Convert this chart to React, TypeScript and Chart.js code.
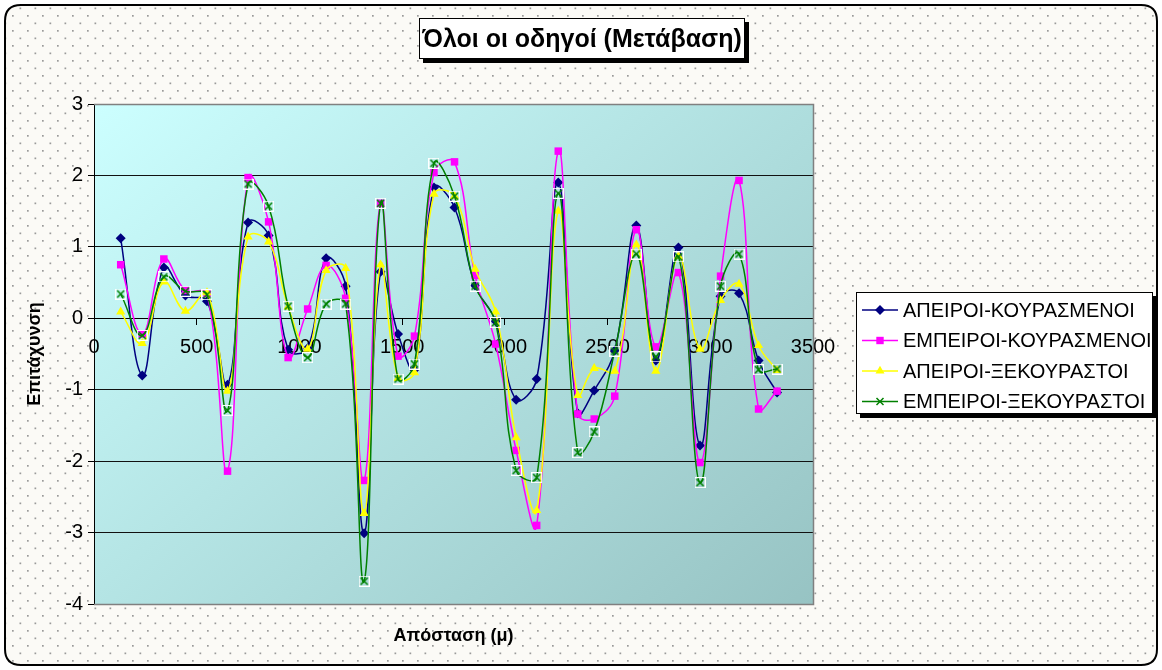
import React, { useEffect, useRef } from 'react';
import { Chart, registerables } from 'chart.js';

Chart.register(...registerables);

const chartTitle = 'Όλοι οι οδηγοί (Μετάβαση)';
const xTitle = 'Απόσταση (μ)';
const yTitle = 'Επιτάχυνση';

const distances = [130, 235, 340, 445, 550, 650, 750, 850, 945, 1040, 1130, 1225, 1315, 1395, 1480, 1560, 1655, 1755, 1855, 1955, 2055, 2155, 2260, 2355, 2435, 2535, 2640, 2735, 2845, 2950, 3050, 3140, 3235, 3325];

const seriesNames = ['ΑΠΕΙΡΟΙ-ΚΟΥΡΑΣΜΕΝΟΙ', 'ΕΜΠΕΙΡΟΙ-ΚΟΥΡΑΣΜΕΝΟΙ', 'ΑΠΕΙΡΟΙ-ΞΕΚΟΥΡΑΣΤΟΙ', 'ΕΜΠΕΙΡΟΙ-ΞΕΚΟΥΡΑΣΤΟΙ'];

const apeiroiKourasmenoi = [1.12, -0.80, 0.71, 0.32, 0.24, -0.93, 1.34, 1.16, -0.44, -0.42, 0.84, 0.45, -3.01, 0.65, -0.22, -0.72, 1.83, 1.55, 0.46, -0.04, -1.14, -0.85, 1.90, -1.33, -1.01, -0.45, 1.30, -0.59, 0.99, -1.78, 0.31, 0.35, -0.59, -1.04];
const empeiroiKourasmenoi = [0.75, -0.22, 0.83, 0.39, 0.35, -2.14, 1.97, 1.35, -0.55, 0.13, 0.74, 0.28, -2.27, 1.61, -0.53, -0.25, 2.04, 2.19, 0.60, -0.36, -1.85, -2.90, 2.34, -1.34, -1.41, -1.09, 1.24, -0.40, 0.64, -2.02, 0.59, 1.93, -1.27, -1.02];
const apeiroiXekourastoi = [0.09, -0.35, 0.51, 0.10, 0.36, -1.02, 1.14, 1.07, 0.16, -0.43, 0.67, 0.70, -2.73, 0.75, -0.84, -0.76, 1.74, 1.71, 0.69, 0.09, -1.67, -2.69, 1.50, -1.08, -0.70, -0.74, 1.03, -0.74, 0.87, -0.43, 0.25, 0.48, -0.38, -0.73];
const empeiroiXekourastoi = [0.34, -0.24, 0.58, 0.38, 0.33, -1.29, 1.88, 1.57, 0.17, -0.55, 0.20, 0.20, -3.68, 1.61, -0.85, -0.64, 2.17, 1.71, 0.45, -0.06, -2.13, -2.23, 1.75, -1.88, -1.59, -0.46, 0.90, -0.54, 0.86, -2.30, 0.45, 0.90, -0.72, -0.71];

const yTicksMin = -4;
const yTicksMax = 3;
const xTicksMin = 0;
const xTicksMax = 3500;

const colors = ['#000080', '#ff00ff', '#ffff00', '#008000'];
const FONT = '"Liberation Sans", Arial, sans-serif';

function makeGreenMarker(withBox: boolean) {
  const c = document.createElement('canvas');
  c.width = 11;
  c.height = 11;
  const g = c.getContext('2d')!;
  if (withBox) {
    g.strokeStyle = '#ffffff';
    g.lineWidth = 1;
    g.strokeRect(0.5, 0.5, 10, 10);
  }
  g.strokeStyle = '#008000';
  g.lineWidth = 1.5;
  g.beginPath();
  g.moveTo(2, 2);
  g.lineTo(9, 9);
  g.moveTo(9, 2);
  g.lineTo(2, 9);
  g.stroke();
  return c;
}

function makePattern(ctx: CanvasRenderingContext2D) {
  const t = document.createElement('canvas');
  t.width = 15;
  t.height = 15;
  const g = t.getContext('2d')!;
  g.fillStyle = '#fbfaf6';
  g.fillRect(0, 0, 15, 15);
  g.fillStyle = '#9a9a9a';
  g.fillRect(12, 0, 1.7, 1.7);
  g.fillRect(4.5, 7.5, 1.7, 1.7);
  return ctx.createPattern(t, 'repeat');
}

function roundRect(ctx: CanvasRenderingContext2D, x: number, y: number, w: number, h: number, r: number) {
  ctx.beginPath();
  ctx.moveTo(x + r, y);
  ctx.lineTo(x + w - r, y);
  ctx.quadraticCurveTo(x + w, y, x + w, y + r);
  ctx.lineTo(x + w, y + h - r);
  ctx.quadraticCurveTo(x + w, y + h, x + w - r, y + h);
  ctx.lineTo(x + r, y + h);
  ctx.quadraticCurveTo(x, y + h, x, y + h - r);
  ctx.lineTo(x, y + r);
  ctx.quadraticCurveTo(x, y, x + r, y);
  ctx.closePath();
}

function drawLegendMarker(ctx: CanvasRenderingContext2D, i: number, x: number, y: number) {
  ctx.save();
  ctx.fillStyle = colors[i];
  ctx.strokeStyle = colors[i];
  ctx.beginPath();
  if (i === 0) {
    const r = 5;
    ctx.moveTo(x - r, y);
    ctx.lineTo(x, y - r);
    ctx.lineTo(x + r, y);
    ctx.lineTo(x, y + r);
    ctx.closePath();
    ctx.fill();
  } else if (i === 1) {
    ctx.rect(x - 3.7, y - 3.7, 7.4, 7.4);
    ctx.fill();
  } else if (i === 2) {
    const r = 5.2;
    ctx.moveTo(x, y - r);
    ctx.lineTo(x + r * 0.866, y + r / 2);
    ctx.lineTo(x - r * 0.866, y + r / 2);
    ctx.closePath();
    ctx.fill();
  } else {
    ctx.lineWidth = 1.5;
    ctx.moveTo(x - 3.5, y - 3.5);
    ctx.lineTo(x + 3.5, y + 3.5);
    ctx.moveTo(x + 3.5, y - 3.5);
    ctx.lineTo(x - 3.5, y + 3.5);
    ctx.stroke();
  }
  ctx.restore();
}

const decorPlugin = {
  id: 'decor',
  beforeDraw(chart: any) {
    const ctx: CanvasRenderingContext2D = chart.ctx;
    const { width, height } = chart;
    ctx.save();
    ctx.fillStyle = '#ffffff';
    ctx.fillRect(0, 0, width, height);
    roundRect(ctx, 5, 5, width - 10, height - 10, 16);
    const pat = makePattern(ctx);
    if (pat) ctx.fillStyle = pat;
    ctx.fill();
    ctx.lineWidth = 2;
    ctx.strokeStyle = '#000';
    ctx.stroke();
    const a = chart.chartArea;
    const grad = ctx.createLinearGradient(a.left, a.top, a.right - 150, a.bottom + 150);
    grad.addColorStop(0, '#ccffff');
    grad.addColorStop(1, '#96c2c2');
    ctx.fillStyle = grad;
    ctx.fillRect(a.left, a.top, a.right - a.left, a.bottom - a.top);
    ctx.restore();
  },
  beforeDatasetsDraw(chart: any) {
    const ctx: CanvasRenderingContext2D = chart.ctx;
    const a = chart.chartArea;
    ctx.save();
    ctx.strokeStyle = '#808080';
    ctx.lineWidth = 1.5;
    ctx.beginPath();
    ctx.moveTo(a.left, a.top + 0.5);
    ctx.lineTo(a.right + 0.5, a.top + 0.5);
    ctx.lineTo(a.right + 0.5, a.bottom + 0.5);
    ctx.lineTo(a.left, a.bottom + 0.5);
    ctx.stroke();
    ctx.restore();
  },
  afterDraw(chart: any) {
    const ctx: CanvasRenderingContext2D = chart.ctx;
    const a = chart.chartArea;
    ctx.save();
    // title box
    ctx.fillStyle = '#000';
    ctx.fillRect(423, 22, 326, 41);
    ctx.fillStyle = '#fff';
    ctx.fillRect(419, 18, 326, 41);
    ctx.strokeStyle = '#000';
    ctx.lineWidth = 1;
    ctx.strokeRect(419.5, 18.5, 325, 40);
    ctx.fillStyle = '#000';
    ctx.font = 'bold 25px ' + FONT;
    ctx.textAlign = 'center';
    ctx.textBaseline = 'alphabetic';
    ctx.fillText(chartTitle, 582, 47);

    // axis titles
    ctx.font = 'bold 18px ' + FONT;
    ctx.textBaseline = 'middle';
    ctx.fillText(xTitle, (a.left + a.right) / 2, 636);
    ctx.save();
    ctx.translate(35, (a.top + a.bottom) / 2);
    ctx.rotate(-Math.PI / 2);
    ctx.fillText(yTitle, 0, 0);
    ctx.restore();

    // legend
    const lx = 856, ly = 292, lw = 297, lh = 122;
    ctx.fillStyle = '#000';
    ctx.fillRect(lx + 4, ly + 4, lw, lh);
    ctx.fillStyle = '#fff';
    ctx.fillRect(lx, ly, lw, lh);
    ctx.strokeStyle = '#000';
    ctx.lineWidth = 1;
    ctx.strokeRect(lx + 0.5, ly + 0.5, lw - 1, lh - 1);
    ctx.font = '20px ' + FONT;
    ctx.textAlign = 'left';
    ctx.textBaseline = 'middle';
    const rows = [310, 340.5, 371, 401.5];
    seriesNames.forEach((name, i) => {
      const y = rows[i];
      ctx.strokeStyle = colors[i];
      ctx.lineWidth = 1.5;
      ctx.beginPath();
      ctx.moveTo(862, y);
      ctx.lineTo(898, y);
      ctx.stroke();
      drawLegendMarker(ctx, i, 880, y);
      ctx.fillStyle = '#000';
      ctx.fillText(name, 903, y + 1);
    });
    ctx.restore();
  },
};

export default function App() {
  const ref = useRef<HTMLCanvasElement | null>(null);
  useEffect(() => {
    document.body.style.margin = '0';
    const canvas = ref.current;
    if (!canvas) return;
    const greenMarker = makeGreenMarker(true);
    const seriesValues = [apeiroiKourasmenoi, empeiroiKourasmenoi, apeiroiXekourastoi, empeiroiXekourastoi];
    const pointStyles: any[] = ['rectRot', 'rect', 'triangle', greenMarker];
    const radii = [5, 5.3, 5.3, 5.5];
    const datasets = seriesValues.map((vals, i) => ({
      label: seriesNames[i],
      data: distances.map((d, j) => ({ x: d, y: vals[j] })),
      borderColor: colors[i],
      backgroundColor: colors[i],
      pointBackgroundColor: colors[i],
      pointBorderColor: colors[i],
      pointBorderWidth: 0,
      pointStyle: pointStyles[i],
      pointRadius: radii[i],
      borderWidth: 1.5,
      tension: 0.4,
      showLine: true,
      fill: false,
      order: 4 - i,
    }));
    const tickFont = { family: FONT, size: 20 };
    const chart = new Chart(canvas, {
      type: 'scatter',
      data: { datasets },
      plugins: [decorPlugin],
      options: {
        animation: false,
        responsive: false,
        devicePixelRatio: 1,
        layout: { padding: { left: 0, top: 104, right: 349, bottom: 66 } },
        plugins: { legend: { display: false }, title: { display: false }, tooltip: { enabled: false } },
        scales: {
          x: {
            type: 'linear',
            min: xTicksMin,
            max: xTicksMax,
            position: { y: 0 },
            ticks: { stepSize: 500, padding: 11, font: tickFont, color: '#000', maxRotation: 0, autoSkip: false, callback: (v: any) => String(v) },
            grid: { drawOnChartArea: false, tickLength: 6, tickColor: '#000', lineWidth: 1 },
            border: { color: '#000', width: 1 },
          },
          y: {
            type: 'linear',
            min: yTicksMin,
            max: yTicksMax,
            position: 'left',
            ticks: { stepSize: 1, padding: 5, font: tickFont, color: '#000' },
            grid: {
              color: (c: any) => (c.tick && (c.tick.value === yTicksMax || c.tick.value === yTicksMin) ? 'rgba(0,0,0,0)' : '#111'),
              tickColor: '#000',
              tickLength: 6,
              lineWidth: 1,
            },
            border: { color: '#000', width: 1 },
            afterFit: (s: any) => { s.width = 94; },
          },
        },
      } as any,
    });
    return () => chart.destroy();
  }, []);
  return (
    <div style={{ width: 1162, height: 670 }}>
      <canvas ref={ref} width={1162} height={670} style={{ display: 'block' }} />
    </div>
  );
}
